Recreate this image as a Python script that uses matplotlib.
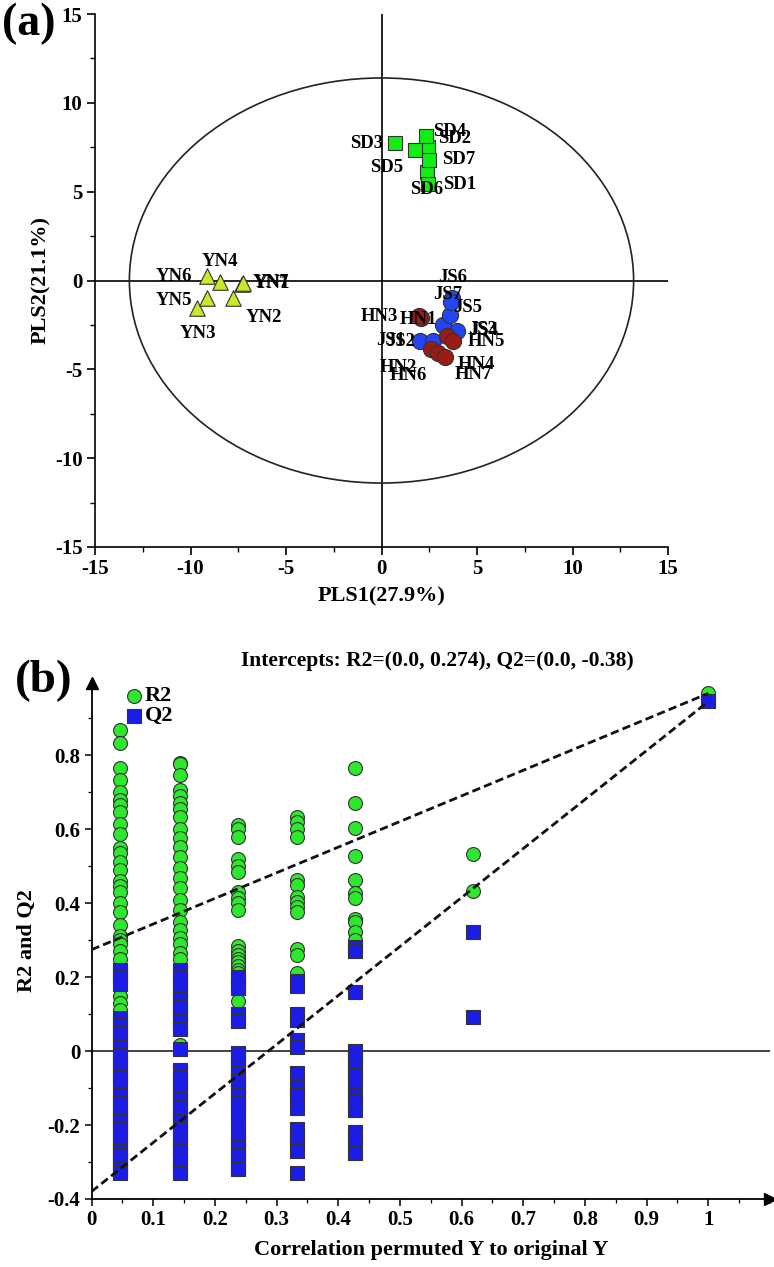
import matplotlib
matplotlib.use("Agg")
import matplotlib.pyplot as plt
from matplotlib.patches import Ellipse
from matplotlib.ticker import MultipleLocator
import numpy as np

plt.rcParams["font.family"] = ["Liberation Serif", "DejaVu Serif"]
plt.rcParams["font.weight"] = "bold"
plt.rcParams["axes.unicode_minus"] = False

# ---- panel (a): PLS score plot ----
SD_NAMES = ["SD1", "SD2", "SD3", "SD4", "SD5", "SD6", "SD7"]
SD_X = [2.40, 2.42, 0.71, 2.33, 1.75, 2.45, 2.49]
SD_Y = [6.13, 7.51, 7.73, 8.14, 7.36, 5.44, 6.79]

YN_NAMES = ["YN1", "YN2", "YN3", "YN4", "YN5", "YN6", "YN7"]
YN_X = [-7.29, -7.76, -9.64, -8.46, -9.12, -9.12, -7.25]
YN_Y = [-0.20, -0.99, -1.55, -0.06, -0.99, 0.28, -0.13]

JS_NAMES = ["JS1", "JS2", "JS3", "JS4", "JS5", "JS6", "JS7"]
JS_X = [2.02, 2.71, 3.94, 3.20, 3.59, 3.69, 3.64]
JS_Y = [-3.39, -3.43, -2.87, -2.49, -1.93, -0.97, -1.20]

HN_NAMES = ["HN1", "HN2", "HN3", "HN4", "HN5", "HN6", "HN7"]
HN_X = [2.07, 2.59, 1.96, 3.41, 3.76, 2.97, 3.32]
HN_Y = [-2.10, -3.86, -1.99, -3.11, -3.39, -4.09, -4.28]

# confidence ellipse semi-axes
ELL_A = 13.2
ELL_B = 11.4

# label placement (pixels, y up) and alignment
LABEL_POS = {
    "SD1": (16, -13, "left"), "SD2": (10, 9, "left"), "SD3": (-12, 0, "right"),
    "SD4": (7, 4, "left"), "SD5": (-12, -18, "right"), "SD6": (-2, -6, "center"),
    "SD7": (13, 0, "left"),
    "YN1": (11, 1, "left"), "YN2": (12, -19, "left"), "YN3": (0, -25, "center"),
    "YN4": (0, 20, "center"), "YN5": (-15, -2, "right"), "YN6": (-15, -1, "right"),
    "YN7": (10, 0, "left"),
    "JS1": (-15, 0, "right"), "JS2": (-18, 0, "right"), "JS3": (11, 2, "left"),
    "JS4": (27, -6, "left"), "JS5": (3, 7, "left"), "JS6": (1, 20, "center"),
    "JS7": (-3, 7, "center"),
    "HN1": (-3, -2, "center"), "HN2": (-14, -18, "right"), "HN3": (-21, -1, "right"),
    "HN4": (11, -29, "left"), "HN5": (14, -1, "left"), "HN6": (-11, -22, "right"),
    "HN7": (10, -18, "left"),
}

# ---- panel (b): permutation test ----
R2_X = [0.047, 0.143, 0.238, 0.333, 0.428, 0.619, 1.0]
R2_VALS = [
    [0.868, 0.833, 0.765, 0.732, 0.70, 0.68, 0.665, 0.647, 0.615, 0.588, 0.55,
     0.535, 0.512, 0.49, 0.46, 0.445, 0.43, 0.40, 0.375, 0.34, 0.31, 0.30, 0.29,
     0.27, 0.25, 0.22, 0.20, 0.185, 0.17, 0.15, 0.13, 0.11],
    [0.78, 0.775, 0.746, 0.705, 0.69, 0.67, 0.655, 0.633, 0.60, 0.575, 0.552,
     0.525, 0.495, 0.467, 0.44, 0.408, 0.38, 0.35, 0.327, 0.305, 0.29, 0.265,
     0.25, 0.16, 0.13, 0.015],
    [0.61, 0.60, 0.58, 0.52, 0.50, 0.485, 0.43, 0.415, 0.40, 0.38, 0.285, 0.27,
     0.26, 0.25, 0.24, 0.23, 0.22, 0.21, 0.135],
    [0.633, 0.62, 0.60, 0.58, 0.462, 0.449, 0.417, 0.404, 0.39, 0.376, 0.275,
     0.26, 0.21],
    [0.764, 0.671, 0.602, 0.527, 0.462, 0.426, 0.414, 0.356, 0.35, 0.322, 0.30],
    [0.534, 0.433],
    [0.967],
]
Q2_VALS = [
    [0.22, 0.20, 0.18, 0.09, 0.07, 0.05, 0.03, 0.01, -0.01, -0.03, -0.05, -0.07,
     -0.09, -0.12, -0.14, -0.16, -0.18, -0.19, -0.21, -0.23, -0.25, -0.27, -0.28,
     -0.30, -0.32, -0.33],
    [0.22, 0.20, 0.18, 0.16, 0.14, 0.12, 0.10, 0.08, 0.06, 0.005, -0.05, -0.07,
     -0.09, -0.11, -0.13, -0.15, -0.17, -0.19, -0.21, -0.23, -0.25, -0.27, -0.29,
     -0.31, -0.33],
    [0.20, 0.18, 0.17, 0.10, 0.08, -0.005, -0.02, -0.04, -0.06, -0.08, -0.10,
     -0.12, -0.14, -0.16, -0.18, -0.22, -0.24, -0.26, -0.28, -0.30, -0.32],
    [0.19, 0.175, 0.10, 0.085, 0.03, 0.012, -0.06, -0.10, -0.12, -0.155, -0.21,
     -0.23, -0.245, -0.27, -0.33],
    [0.28, 0.27, 0.16, 0.0, -0.02, -0.04, -0.065, -0.085, -0.12, -0.135, -0.16,
     -0.22, -0.24, -0.275],
    [0.322, 0.092],
    [0.945],
]
R2_INTERCEPT = 0.274
Q2_INTERCEPT = -0.38

W, H = 774, 1267
fig = plt.figure(figsize=(W / 100, H / 100), dpi=100)

# ================= (a) =================
ax = fig.add_axes([95 / W, 1 - 547 / H, 573 / W, 533 / H])
ax.set_xlim(-15, 15)
ax.set_ylim(-15, 15)
ax.spines["top"].set_visible(False)
ax.spines["right"].set_visible(False)
for s in ["left", "bottom"]:
    ax.spines[s].set_linewidth(1.2)
ax.axhline(0, color="k", lw=1.2, zorder=1)
ax.axvline(0, color="k", lw=1.2, zorder=1)
ax.add_patch(Ellipse((0, 0), 2 * ELL_A, 2 * ELL_B, fill=False,
                     edgecolor="#222222", lw=1.2, zorder=1))

edge = "#333333"
ax.scatter(SD_X, SD_Y, marker="s", s=110, color="#11ee11", edgecolors=edge,
           linewidths=0.8, zorder=3)
ax.scatter(YN_X, YN_Y, marker="^", s=125, color="#c8e82a", edgecolors=edge,
           linewidths=0.8, zorder=3)
ax.scatter(JS_X, JS_Y, marker="o", s=135, color="#2346f5", edgecolors=edge,
           linewidths=0.8, zorder=3)
ax.scatter(HN_X, HN_Y, marker="o", s=135, color="#9a1c16", edgecolors=edge,
           linewidths=0.8, zorder=4)

for names, xs, ys in [(SD_NAMES, SD_X, SD_Y), (YN_NAMES, YN_X, YN_Y),
                      (JS_NAMES, JS_X, JS_Y), (HN_NAMES, HN_X, HN_Y)]:
    for n, x, y in zip(names, xs, ys):
        dx, dy, ha = LABEL_POS[n]
        ax.annotate(n, (x, y), xytext=(dx, dy), textcoords="offset pixels",
                    ha=ha, va="center", fontsize=13.5, fontweight="bold",
                    zorder=5)

ax.xaxis.set_major_locator(MultipleLocator(5))
ax.yaxis.set_major_locator(MultipleLocator(5))
ax.xaxis.set_minor_locator(MultipleLocator(2.5))
ax.yaxis.set_minor_locator(MultipleLocator(2.5))
ax.tick_params(which="major", length=6, width=1.2, labelsize=15, pad=3)
ax.tick_params(which="minor", length=3.5, width=1.0)
ax.set_xlabel("PLS1(27.9%)", fontsize=16, fontweight="bold", labelpad=5)
ax.set_ylabel("PLS2(21.1%)", fontsize=16, fontweight="bold", labelpad=3)

fig.text(0.002, 1 - 24 / H, "(a)", fontsize=33, fontweight="bold",
         ha="left", va="center")

# ================= (b) =================
bx = fig.add_axes([91.5 / W, 1 - 1199 / H, 678.5 / W, 516 / H])
bx.set_xlim(0, 1.1)
bx.set_ylim(-0.4, 0.995)
bx.spines["top"].set_visible(False)
bx.spines["right"].set_visible(False)
for s in ["left", "bottom"]:
    bx.spines[s].set_linewidth(1.3)
bx.plot(1, 0, marker=">", color="k", ms=9, transform=bx.transAxes,
        clip_on=False)
bx.plot(0, 1, marker="^", color="k", ms=9, transform=bx.transAxes,
        clip_on=False)
bx.axhline(0, color="#333333", lw=1.3, zorder=1)

for x, vals in zip(R2_X, R2_VALS):
    bx.scatter([x] * len(vals), vals, marker="o", s=100, color="#2ee82e",
               edgecolors=edge, linewidths=0.8, zorder=3)
for x, vals in zip(R2_X, Q2_VALS):
    bx.scatter([x] * len(vals), vals, marker="s", s=90, color="#1c1ce8",
               edgecolors=edge, linewidths=0.8, zorder=4)

bx.plot([0, R2_X[-1]], [R2_INTERCEPT, R2_VALS[-1][0]], color="#111111",
        lw=2, ls=(0, (3, 1.5)), zorder=5)
bx.plot([0, R2_X[-1]], [Q2_INTERCEPT, Q2_VALS[-1][0]], color="#111111",
        lw=2, ls=(0, (3, 1.5)), zorder=5)

bx.set_xticks(np.arange(0, 1.01, 0.1))
bx.set_xticklabels(["0", "0.1", "0.2", "0.3", "0.4", "0.5", "0.6", "0.7",
                    "0.8", "0.9", "1"])
bx.set_yticks([-0.4, -0.2, 0, 0.2, 0.4, 0.6, 0.8])
bx.set_yticklabels(["-0.4", "-0.2", "0", "0.2", "0.4", "0.6", "0.8"])
bx.xaxis.set_minor_locator(MultipleLocator(0.05))
bx.yaxis.set_minor_locator(MultipleLocator(0.1))
bx.tick_params(which="major", length=5, width=1.1, labelsize=15, pad=3)
bx.tick_params(which="minor", length=3, width=0.9)
bx.set_xlabel("Correlation permuted Y to original Y", fontsize=16,
              fontweight="bold", labelpad=7)
bx.set_ylabel("R2 and Q2", fontsize=16, fontweight="bold", labelpad=8)

# legend drawn as markers + text in axes fraction
bx.scatter([0.062], [0.975], marker="o", s=100, color="#2ee82e",
           edgecolors=edge, linewidths=0.8, transform=bx.transAxes,
           clip_on=False)
bx.scatter([0.062], [0.936], marker="s", s=90, color="#1c1ce8",
           edgecolors=edge, linewidths=0.8, transform=bx.transAxes,
           clip_on=False)
bx.text(0.079, 0.975, "R2", transform=bx.transAxes, fontsize=16,
        fontweight="bold", va="center")
bx.text(0.079, 0.936, "Q2", transform=bx.transAxes, fontsize=16,
        fontweight="bold", va="center")

fig.text(437 / W, 1 - 661 / H, "Intercepts: R2=(0.0, 0.274), Q2=(0.0, -0.38)",
         fontsize=15.5, fontweight="bold", ha="center", va="center")
fig.text(15 / W, 1 - 681 / H, "(b)", fontsize=34, fontweight="bold",
         ha="left", va="center")

fig.savefig("out.png", dpi=100)
